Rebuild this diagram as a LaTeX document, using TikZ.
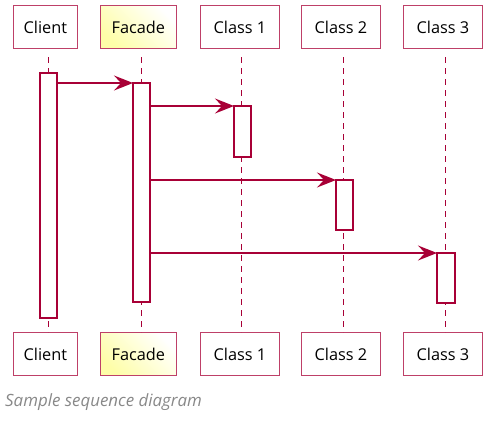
\documentclass[tikz,border=0pt]{standalone}
\usepackage{fontspec}
\setmainfont{Open Sans}
\usetikzlibrary{arrows.meta}
\definecolor{pu}{HTML}{A80036}
\definecolor{puyel}{HTML}{FEFEA8}
\definecolor{capgrey}{HTML}{888888}
\begin{document}
\begin{tikzpicture}[x=1pt,y=-1pt,
  part/.style={draw=pu!75, line width=0.8pt, fill=white, minimum height=43pt,
    inner sep=0pt, anchor=north west, font=\fontsize{16.3}{19}\selectfont},
  facadepart/.style={part, left color=puyel, right color=white, shading angle=135},
  lifeln/.style={color=pu, line width=1.7pt, dash pattern=on 6pt off 5pt},
  act/.style={draw=pu, line width=1.3pt, fill=white},
  actanchor/.style={inner sep=0pt, anchor=north west},
  msg/.style={draw=pu, line width=1.3pt, -{Stealth[length=19pt,width=15pt,inset=7pt]}},
  caption/.style={anchor=base west, inner sep=0pt, text=capgrey,
    font=\fontsize{16.9}{19}\selectfont\itshape}]
\useasboundingbox (0,0) rectangle (500,429);
% participant boxes, top
\node[part, minimum width=64pt] (clientT) at (13,5) {Client};
\node[facadepart, minimum width=76pt] (facadeT) at (100,5) {Facade};
\node[part, minimum width=79pt] (c1T) at (200,5) {Class 1};
\node[part, minimum width=79pt] (c2T) at (301,5) {Class 2};
\node[part, minimum width=79pt] (c3T) at (403,5) {Class 3};
% participant boxes, bottom
\node[part, minimum width=64pt] (clientB) at (13,332) {Client};
\node[facadepart, minimum width=76pt] (facadeB) at (100,332) {Facade};
\node[part, minimum width=79pt] (c1B) at (200,332) {Class 1};
\node[part, minimum width=79pt] (c2B) at (301,332) {Class 2};
\node[part, minimum width=79pt] (c3B) at (403,332) {Class 3};
% lifelines
\coordinate (lc1) at (48.5,57); \coordinate (lc2) at (48.5,332);
\coordinate (lf1) at (141.5,57); \coordinate (lf2) at (141.5,332);
\coordinate (l11) at (241.5,57); \coordinate (l12) at (241.5,332);
\coordinate (l21) at (343.5,57); \coordinate (l22) at (343.5,332);
\coordinate (l31) at (445.5,57); \coordinate (l32) at (445.5,332);
\draw[lifeln] (lc1) -- (lc2);
\draw[lifeln] (lf1) -- (lf2);
\draw[lifeln] (l11) -- (l12);
\draw[lifeln] (l21) -- (l22);
\draw[lifeln] (l31) -- (l32);
% activations
\draw[act] (40,73) rectangle (57,318);
\node[actanchor, minimum width=17pt, minimum height=245pt] (aC) at (40,73) {};
\draw[act] (133,83) rectangle (150,302);
\node[actanchor, minimum width=17pt, minimum height=219pt] (aF) at (133,83) {};
\draw[act] (234,106) rectangle (251,157);
\node[actanchor, minimum width=17pt, minimum height=51pt] (a1) at (234,106) {};
\draw[act] (336,180) rectangle (353,230);
\node[actanchor, minimum width=17pt, minimum height=50pt] (a2) at (336,180) {};
\draw[act] (437,253) rectangle (455,303);
\node[actanchor, minimum width=18pt, minimum height=50pt] (a3) at (437,253) {};
% messages
\draw[msg] (aC.north east |- 0,83) -- (aF.north west);
\draw[msg] (aF.north east |- 0,106) -- (a1.north west);
\draw[msg] (aF.north east |- 0,180) -- (a2.north west);
\draw[msg] (aF.north east |- 0,253) -- (a3.north west);
% caption
\node[caption] (cap) at (5,406.5) {Sample sequence diagram};
\end{tikzpicture}
\end{document}
